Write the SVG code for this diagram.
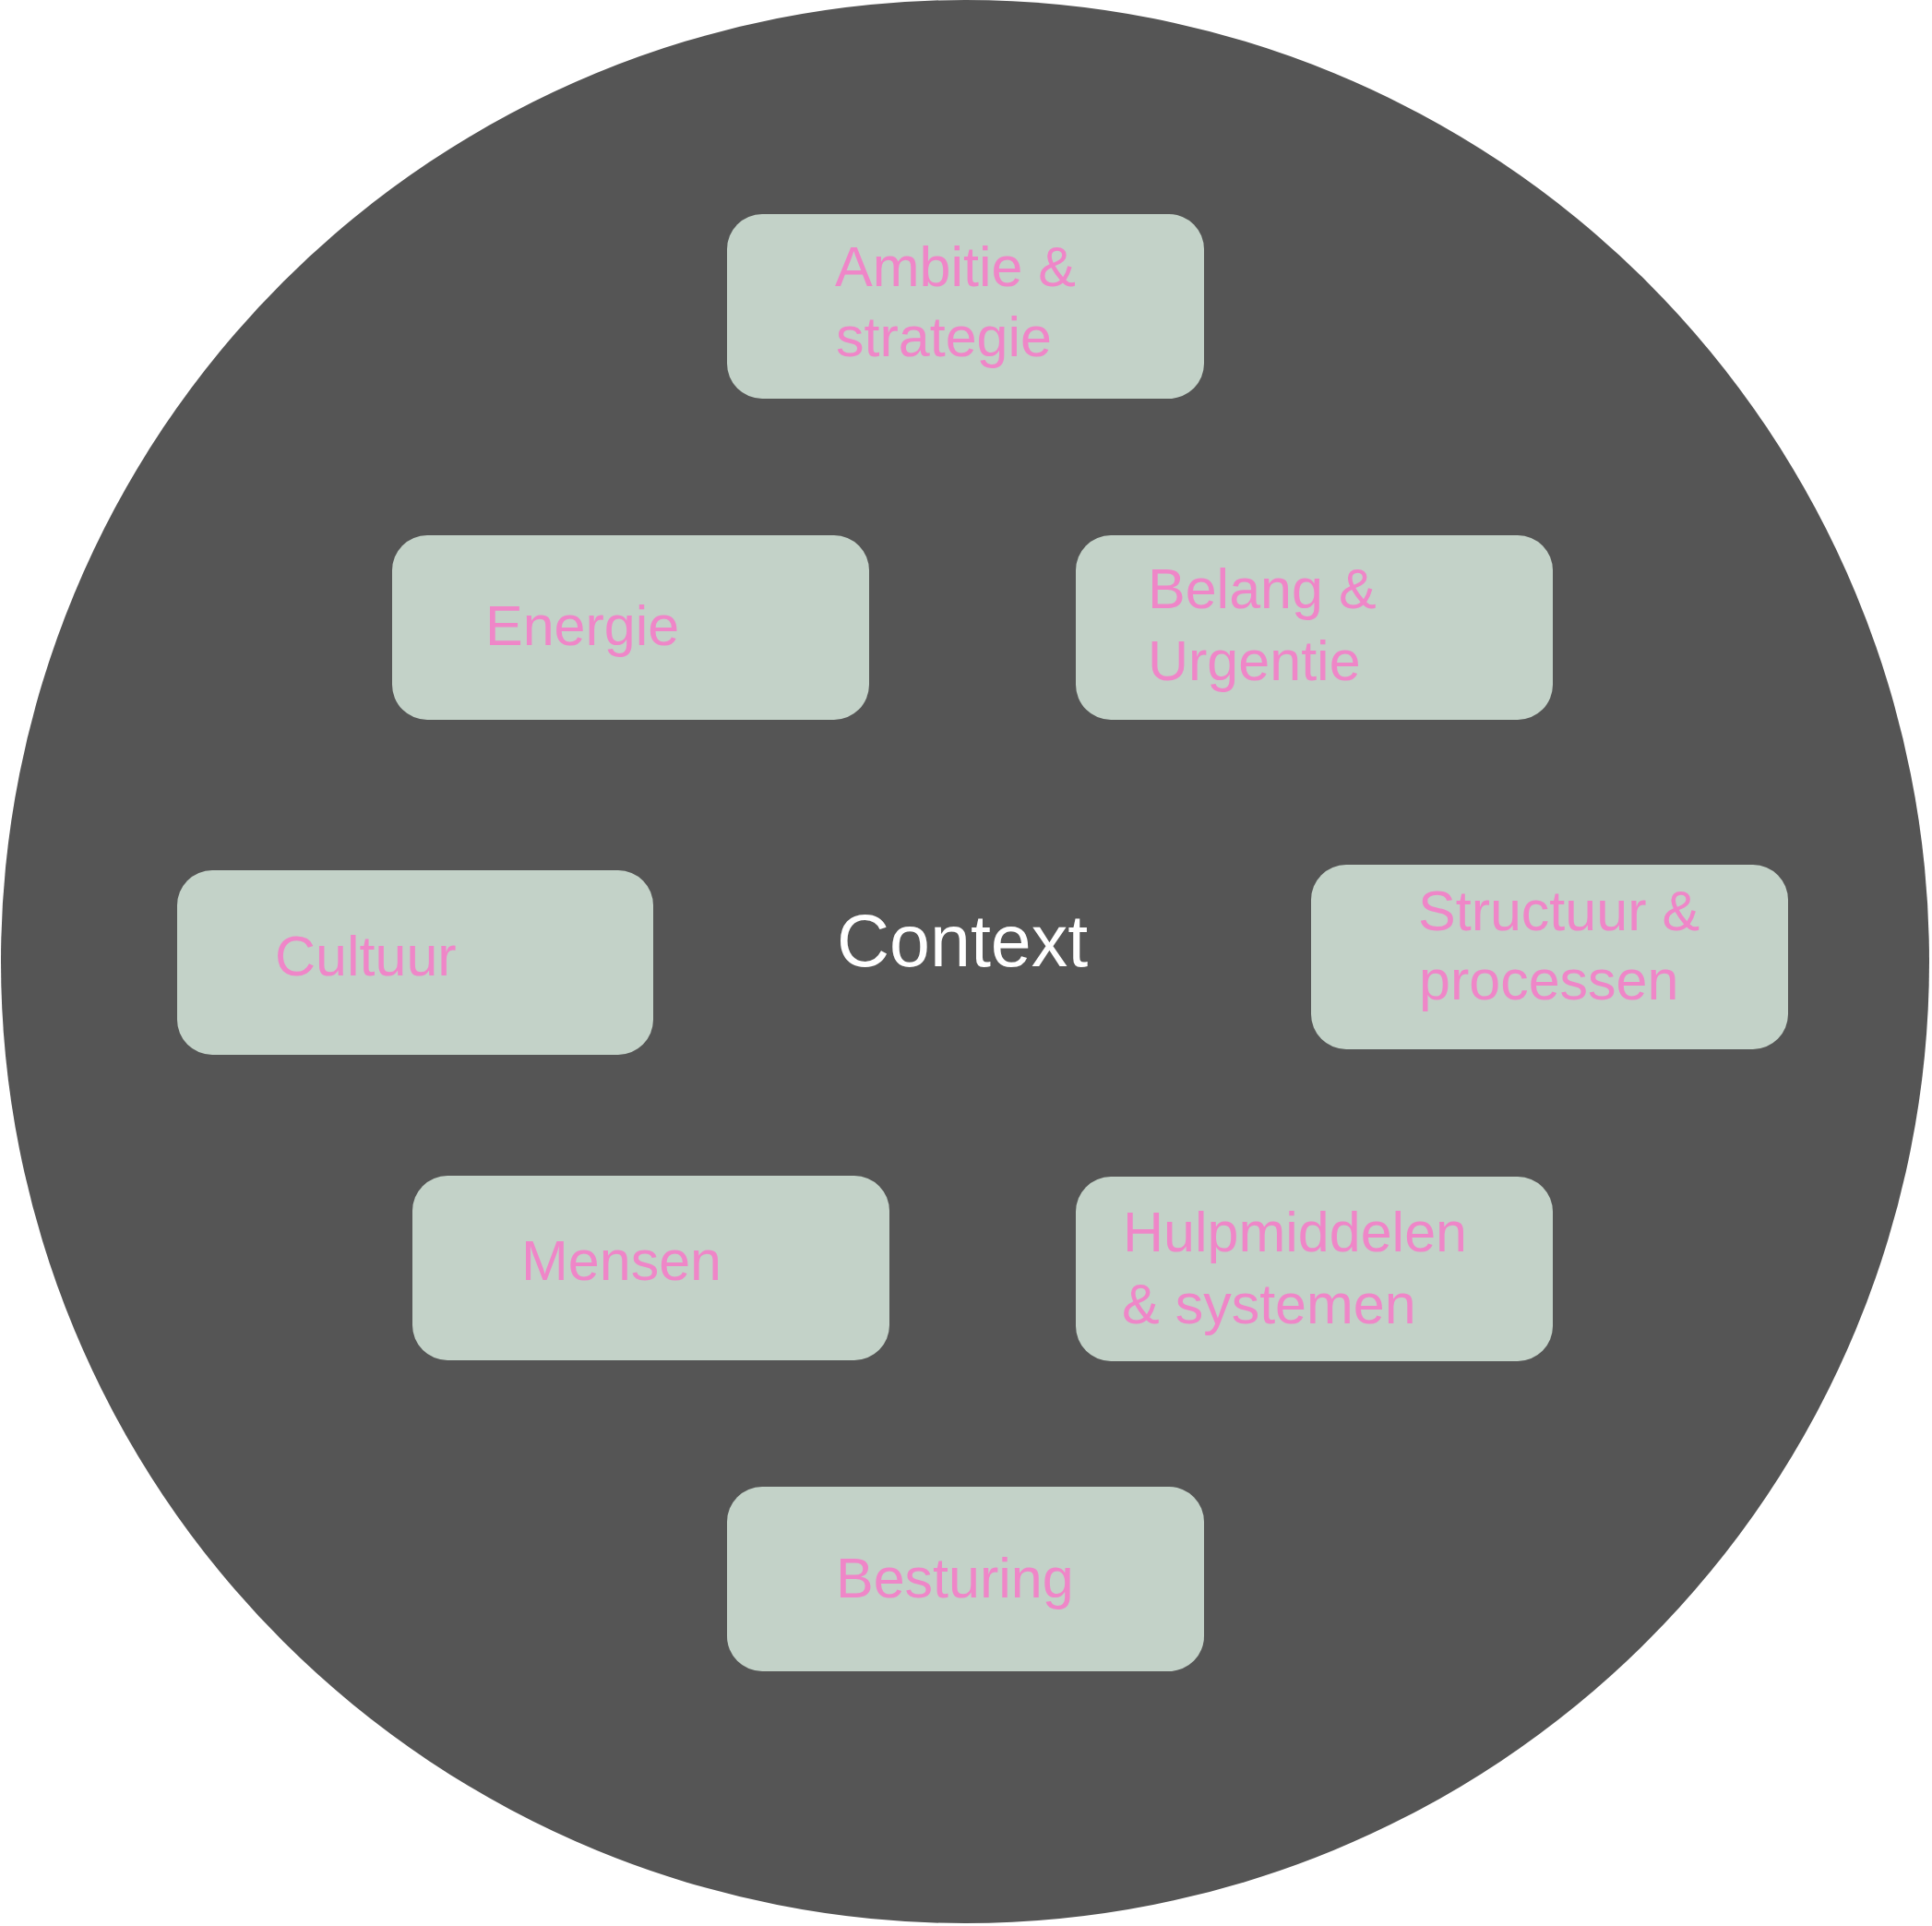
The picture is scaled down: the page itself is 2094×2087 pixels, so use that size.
<svg xmlns="http://www.w3.org/2000/svg" width="2094" height="2087" viewBox="0 0 2094 2087">
<style>
.box{fill:#C3D2C8;}
.lbl{font-family:"Liberation Sans",Arial,sans-serif;font-size:61px;fill:#EF86C8;}
.ctx{font-family:"Liberation Sans",Arial,sans-serif;font-size:79px;fill:#FFFFFF;}
</style>
<rect x="0" y="0" width="2094" height="2087" fill="#FFFFFF"/>
<ellipse id="context-circle" cx="1046" cy="1042" rx="1045" ry="1042" fill="#555555"/>
<g id="connectors"></g>
<g id="context"><text class="ctx" x="907" y="1047">Context</text></g>
<g id="ambitie"><rect class="box" x="788" y="232" width="517" height="200" rx="38" ry="38"/><text class="lbl" x="905" y="310">Ambitie &amp;</text><text class="lbl" x="906" y="386">strategie</text></g>
<g id="energie"><rect class="box" x="425" y="580" width="517" height="200" rx="38" ry="38"/><text class="lbl" x="526" y="699">Energie</text></g>
<g id="belang"><rect class="box" x="1166" y="580" width="517" height="200" rx="38" ry="38"/><text class="lbl" x="1244" y="659">Belang &amp;</text><text class="lbl" x="1244" y="737">Urgentie</text></g>
<g id="cultuur"><rect class="box" x="192" y="943" width="516" height="200" rx="38" ry="38"/><text class="lbl" x="298" y="1057">Cultuur</text></g>
<g id="structuur"><rect class="box" x="1421" y="937" width="517" height="200" rx="38" ry="38"/><text class="lbl" x="1537" y="1008">Structuur &amp;</text><text class="lbl" x="1538" y="1083">processen</text></g>
<g id="mensen"><rect class="box" x="447" y="1274" width="517" height="200" rx="38" ry="38"/><text class="lbl" x="565" y="1387">Mensen</text></g>
<g id="hulpmiddelen"><rect class="box" x="1166" y="1275" width="517" height="200" rx="38" ry="38"/><text class="lbl" x="1217" y="1356">Hulpmiddelen</text><text class="lbl" x="1216" y="1434">&amp; systemen</text></g>
<g id="besturing"><rect class="box" x="788" y="1611" width="517" height="200" rx="38" ry="38"/><text class="lbl" x="906" y="1731">Besturing</text></g>
</svg>
